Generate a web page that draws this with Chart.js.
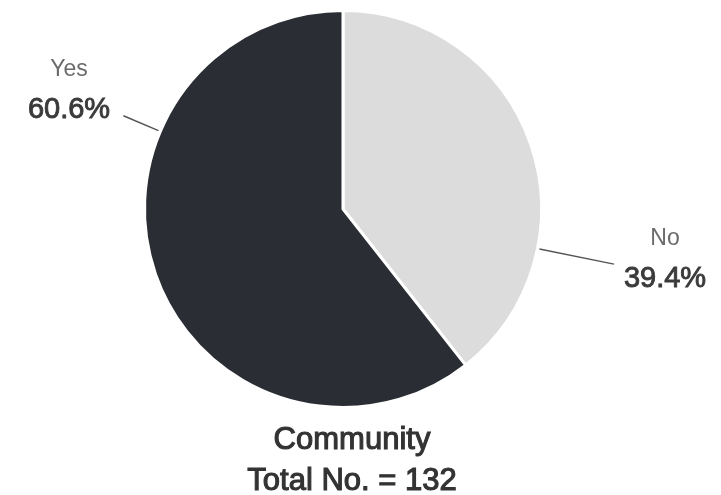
<!DOCTYPE html>
<html>
<head>
<meta charset="utf-8">
<script src="https://cdn.jsdelivr.net/npm/chart.js@4.4.1/dist/chart.umd.min.js"></script>
<style>
  html, body { margin: 0; padding: 0; background: #fff; }
  #wrap { position: relative; width: 721px; height: 495px; }
</style>
</head>
<body>
<div id="wrap"><canvas id="chart" width="721" height="495"></canvas></div>
<script>
// data
const categories = ['No', 'Yes'];
const shares = [39.4, 60.6];
const sliceColors = ['#dcdcdc', '#2a2d33'];
const captionLines = ['Community', 'Total No. = 132'];

// where each leader line leaves the pie (degrees, canvas angle) and how long it is
const leaders = [
  { angle: 11.5, length: 76, textX: 665, nameY: 245, valueY: 287 },
  { angle: 203, length: 38, textX: 69, nameY: 76, valueY: 118 }
];

// 글자를 조금 굵게 (얇은 외곽선)
function heavyText(ctx, txt, x, y, w) {
  ctx.lineWidth = w;
  ctx.strokeStyle = ctx.fillStyle;
  ctx.strokeText(txt, x, y);
  ctx.fillText(txt, x, y);
}

// 이름 + 퍼센트 라벨과 하단 캡션
const labelPlugin = {
  id: 'pieLabels',
  afterDraw(chart) {
    const ctx = chart.ctx;
    const meta = chart.getDatasetMeta(0);
    ctx.save();
    meta.data.forEach((arc, i) => {
      const L = leaders[i];
      const a = L.angle * Math.PI / 180;
      const r0 = arc.outerRadius + 2;
      const r1 = r0 + L.length;
      ctx.strokeStyle = '#555';
      ctx.lineWidth = 1.5;
      ctx.beginPath();
      ctx.moveTo(arc.x + Math.cos(a) * r0, arc.y + Math.sin(a) * r0);
      ctx.lineTo(arc.x + Math.cos(a) * r1, arc.y + Math.sin(a) * r1);
      ctx.stroke();

      ctx.textAlign = 'center';
      ctx.textBaseline = 'alphabetic';
      ctx.fillStyle = '#6b6b6b';
      ctx.font = '23px "Liberation Sans", Arial, sans-serif';
      ctx.fillText(categories[i], L.textX, L.nameY);
      ctx.fillStyle = '#3a3a3a';
      ctx.font = '29px "Liberation Sans", Arial, sans-serif';
      heavyText(ctx, shares[i].toFixed(1) + '%', L.textX, L.valueY, 0.9);
    });

    ctx.fillStyle = '#333';
    ctx.font = '31px "Liberation Sans", Arial, sans-serif';
    ctx.textAlign = 'center';
    heavyText(ctx, captionLines[0], 352, 449, 1.1);
    heavyText(ctx, captionLines[1], 352, 490, 1.1);
    ctx.restore();
  }
};

new Chart(document.getElementById('chart'), {
  type: 'pie',
  data: {
    labels: categories,
    datasets: [{
      data: shares,
      backgroundColor: sliceColors,
      borderColor: '#ffffff',
      borderWidth: 3
    }]
  },
  options: {
    responsive: false,
    animation: false,
    layout: { padding: { left: 143, right: 178, top: 9, bottom: 86 } },
    plugins: {
      legend: { display: false },
      tooltip: { enabled: false }
    }
  },
  plugins: [labelPlugin]
});
</script>
</body>
</html>
